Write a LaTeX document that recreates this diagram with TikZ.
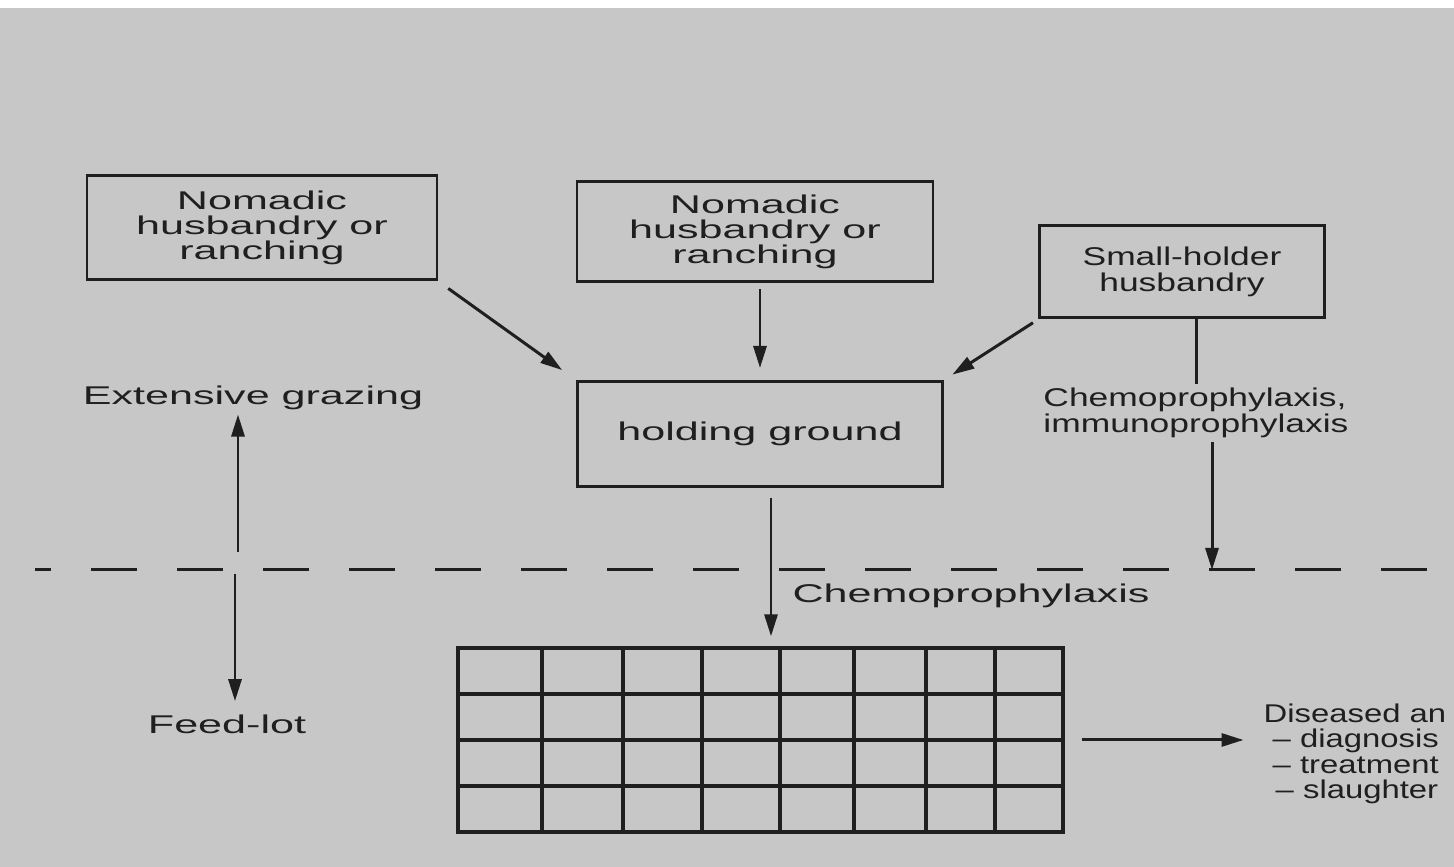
\documentclass[tikz,border=0pt]{standalone}
\usepackage{fontspec}
\setmainfont[FakeStretch=1.68]{Liberation Sans}
\newfontfamily\farfont[FakeStretch=1.38]{Liberation Sans}
\newfontfamily\edgefont[FakeStretch=1.28]{Liberation Sans}
\newcommand\labelsize{\fontsize{7.3}{7.2}\selectfont}
\usetikzlibrary{arrows.meta, positioning}

\begin{document}
\begin{tikzpicture}[
  every node/.style={font=\labelsize, text=black!88, inner sep=1pt},
  box/.style={draw=black!88, line width=0.85pt, minimum width=3.5cm, minimum height=1.04cm, align=center, inner sep=0pt},
  lbl/.style={align=left},
  arr/.style={-{Triangle[length=0.22cm, width=0.13cm]}, line width=0.85pt, draw=black!88},
  grd/.style={line width=0.95pt, draw=black!88}
]

% page
\fill[black!22] (0,0) rectangle (14.54,-8.67);
\fill[white] (0,0) rectangle (14.54,-0.08);
\useasboundingbox (0,0) rectangle (14.54,-8.67);

% management systems
\node[box] (nomadA) at (2.62,-2.28) {Nomadic\\husbandry or\\ranching};
\node[box, minimum width=3.56cm, minimum height=1.0cm] (nomadB) at (7.55,-2.32) {Nomadic\\husbandry or\\ranching};
\node[box, minimum width=2.85cm, minimum height=0.92cm, font=\farfont\labelsize] (small) at (11.82,-2.72) {Small-holder\\husbandry};
\node[box, minimum width=3.65cm, minimum height=1.05cm] (hold) at (7.60,-4.34) {holding ground};

\node[anchor=base] (ext) at (2.53,-4.05) {Extensive grazing};
\node[anchor=base] (feed) at (2.27,-7.34) {Feed-lot};
\node[lbl, font=\farfont\labelsize] (chemoB) at (11.96,-4.13) {Chemoprophylaxis,\\immunoprophylaxis};
\node[anchor=base] (chemoA) at (9.71,-6.03) {Chemoprophylaxis};
\node[lbl, anchor=west, font=\edgefont\labelsize] (sick) at (12.595,-7.54) {Diseased an\\\hspace*{0.09cm}\textendash{} diagnosis\\\hspace*{0.09cm}\textendash{} treatment\\\hspace*{0.12cm}\textendash{} slaughter};

% feed-lot pens
\node[grd, minimum width=6.05cm, minimum height=1.84cm, inner sep=0pt] (pens) at (7.605,-7.40) {};
\foreach \gx in {5.42,6.23,7.02,7.80,8.54,9.26,9.95}
  \draw[grd] (\gx,0 |- pens.north) -- (\gx,0 |- pens.south);
\foreach \gy in {-6.94,-7.40,-7.86}
  \draw[grd] (pens.west |- 0,\gy) -- (pens.east |- 0,\gy);

% dividing line
\coordinate (dashL) at (0.35,-5.70);
\coordinate (dashR) at (14.54,-5.70);
\draw[line width=0.85pt, black!88, dash pattern=on 0.46cm off 0.40cm, dash phase=0.30cm] (dashL) -- (dashR);

\coordinate (upS) at (2.38,-5.52);
\coordinate (dnS) at (2.35,-5.74);
\draw[arr] (upS) -- (upS |- ext.south);
\draw[arr, shorten >=0.1cm] (dnS) -- (dnS |- feed.north);

% arrows
\draw[arr, shorten <=0.12cm, shorten >=0.17cm] (nomadA.south east) -- (hold.north west);
\draw[arr, shorten <=0.06cm, shorten >=0.12cm] (hold.north |- nomadB.south) -- (hold.north);
\draw[arr, shorten <=0.06cm, shorten >=0.1cm] (small.south west) -- (hold.north east);
\draw[line width=0.85pt, black!88] (chemoB.north |- small.south) -- (chemoB.north);
\draw[arr] ([xshift=0.16cm]chemoB.south) -- ([xshift=0.16cm]chemoB.south |- dashL);
\draw[arr, shorten <=0.1cm, shorten >=0.1cm] ([xshift=0.11cm]hold.south) -- ([xshift=0.11cm]hold.south |- pens.north);
\draw[arr, shorten <=0.17cm, shorten >=0.16cm] (pens.east) -- (pens.east -| sick.west);

\end{tikzpicture}
\end{document}
